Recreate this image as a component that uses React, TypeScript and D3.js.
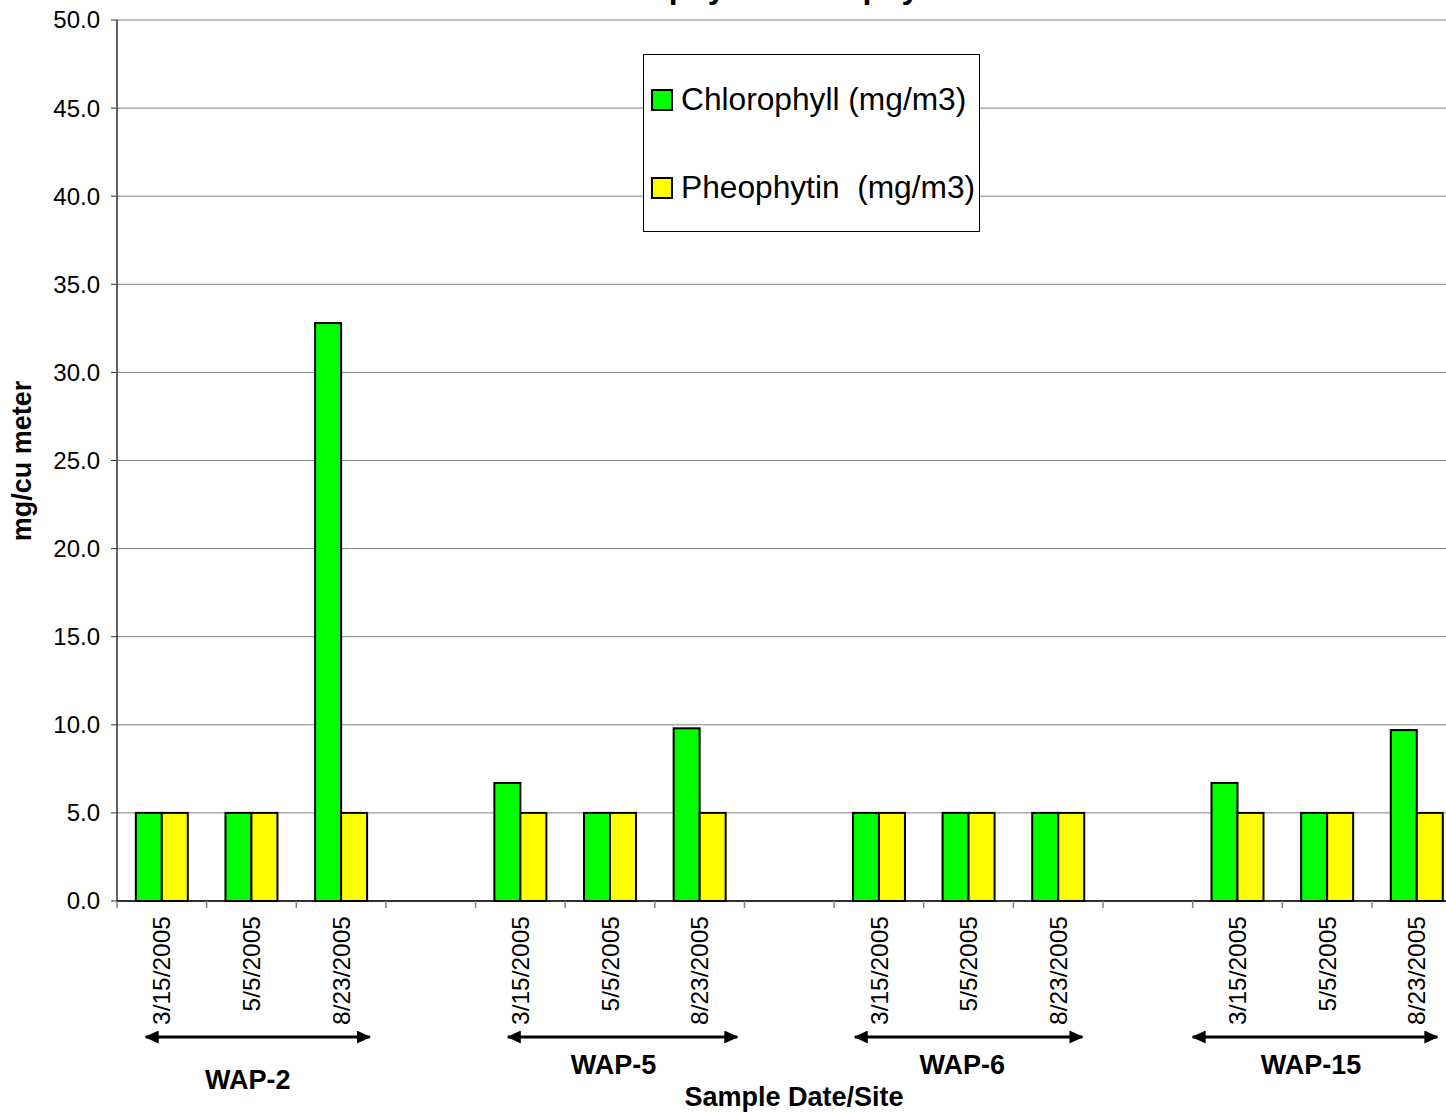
import React from "react";
import * as d3 from "d3";

// Sampling sites and dates
const sites = ["WAP-2", "WAP-5", "WAP-6", "WAP-15"];
const dates = ["3/15/2005", "5/5/2005", "8/23/2005"];

// Measured concentrations (mg/m3), in site order then date order
const chlorophyll = [5.0, 5.0, 32.8, 6.7, 5.0, 9.8, 5.0, 5.0, 5.0, 6.7, 5.0, 9.7];
const pheophytin = [5.0, 5.0, 5.0, 5.0, 5.0, 5.0, 5.0, 5.0, 5.0, 5.0, 5.0, 5.0];

const seriesNames = ["Chlorophyll (mg/m3)", "Pheophytin  (mg/m3)"];
const seriesColors = ["#00FF00", "#FFFF00"];

const yTicks = [0, 5, 10, 15, 20, 25, 30, 35, 40, 45, 50];

// Site brackets below the axis, expressed in category-slot units
const bracketStart = [0.32, 4.36, 8.23, 12.0];
const bracketEnd = [2.82, 6.92, 10.77, 14.73];
const bracketLabel = [1.46, 5.54, 9.43, 13.32];

const FONT = "'Liberation Sans', Arial, Helvetica, sans-serif";

export default function App() {
  const width = 1446;
  const height = 1112;
  const left = 117;
  const top = 20;
  const bottom = 901;
  const slotW = 89.64;

  // 15 slots: three dates per site plus an empty slot between sites
  const slots: { key: string; date: string; idx: number }[] = [];
  sites.forEach((s, si) => {
    dates.forEach((d, di) => slots.push({ key: `${s}|${d}`, date: d, idx: si * 3 + di }));
    if (si < sites.length - 1) slots.push({ key: `gap${si}`, date: "", idx: -1 });
  });

  const x = d3
    .scaleBand<string>()
    .domain(slots.map((s) => s.key))
    .range([left, left + slots.length * slotW])
    .padding(0);
  const right = left + slots.length * slotW;
  const groupW = 52;
  const x1 = d3.scaleBand<number>().domain([0, 1]).range([0, groupW]).padding(0);
  const y = d3.scaleLinear().domain([0, 50]).range([bottom, top]);
  const u = d3.scaleLinear().domain([0, 1]).range([left, left + slotW]);

  const values = [chlorophyll, pheophytin];
  const tickXs = slots.map((s) => x(s.key) as number);

  const arrowY = 1037;

  return (
    <svg
      width={width}
      height={height}
      style={{ position: "absolute", left: 0, top: 0, background: "#fff" }}
      fontFamily={FONT}
    >
      <rect x={0} y={0} width={width} height={height} fill="#fff" />
      {/* title, sitting above the top of the frame */}
      <text x={762} y={-2} textAnchor="middle" fontSize={32} fontWeight="bold">
        Chlorophyll &amp; Pheophytin
      </text>

      {/* gridlines */}
      {yTicks.map((t) => (
        <line key={`g${t}`} x1={left} x2={right} y1={y(t)} y2={y(t)} stroke="#808080" strokeWidth={1} />
      ))}

      {/* bars */}
      {slots
        .filter((s) => s.idx >= 0)
        .map((s) => {
          const cx = (x(s.key) as number) + x.bandwidth() / 2 - groupW / 2;
          return values.map((vals, k) => (
            <rect
              key={`${s.key}-${k}`}
              x={cx + (x1(k) as number)}
              y={y(vals[s.idx])}
              width={x1.bandwidth()}
              height={y(0) - y(vals[s.idx])}
              fill={seriesColors[k]}
              stroke="#000"
              strokeWidth={2}
            />
          ));
        })}

      {/* axes */}
      <line x1={left} x2={left} y1={top} y2={bottom} stroke="#333" strokeWidth={1.5} />
      <line x1={left} x2={right} y1={bottom} y2={bottom} stroke="#000" strokeWidth={1.5} />
      {yTicks.map((t) => (
        <g key={`yt${t}`}>
          <line x1={left - 6} x2={left} y1={y(t)} y2={y(t)} stroke="#333" strokeWidth={1} />
          <text x={100} y={y(t)} dy="0.35em" textAnchor="end" fontSize={24}>
            {t.toFixed(1)}
          </text>
        </g>
      ))}
      {tickXs.map((tx, i) => (
        <line key={`xt${i}`} x1={tx} x2={tx} y1={bottom} y2={bottom + 7} stroke="#808080" strokeWidth={1.5} />
      ))}
      {slots
        .filter((s) => s.idx >= 0)
        .map((s) => {
          const cx = (x(s.key) as number) + x.bandwidth() / 2;
          return (
            <text
              key={`lbl-${s.key}`}
              transform={`translate(${cx},916) rotate(-90)`}
              textAnchor="end"
              dy="0.35em"
              fontSize={24.5}
            >
              {s.date}
            </text>
          );
        })}

      {/* site brackets */}
      <defs>
        <marker id="ah" viewBox="0 0 14 13" refX={13} refY={6.5} markerWidth={14} markerHeight={13} markerUnits="userSpaceOnUse" orient="auto-start-reverse">
          <path d="M0,0 L14,6.5 L0,13 Z" fill="#000" />
        </marker>
      </defs>
      {sites.map((s, i) => (
        <g key={`br${s}`}>
          <line
            x1={u(bracketStart[i])}
            x2={u(bracketEnd[i])}
            y1={arrowY}
            y2={arrowY}
            stroke="#000"
            strokeWidth={3}
            markerStart="url(#ah)"
            markerEnd="url(#ah)"
          />
          <text x={u(bracketLabel[i])} y={i === 0 ? 1089 : 1074} textAnchor="middle" fontSize={27} fontWeight="bold">
            {s}
          </text>
        </g>
      ))}

      {/* axis titles */}
      <text x={794} y={1106} textAnchor="middle" fontSize={27} fontWeight="bold">
        Sample Date/Site
      </text>
      <text transform="translate(31,461) rotate(-90)" textAnchor="middle" fontSize={27} fontWeight="bold">
        mg/cu meter
      </text>

      {/* legend */}
      <g>
        <rect x={643.5} y={54.5} width={336} height={177} fill="#fff" stroke="#000" strokeWidth={1} />
        {seriesNames.map((n, k) => (
          <g key={n}>
            <rect x={652} y={k === 0 ? 90 : 178} width={20} height={20} fill={seriesColors[k]} stroke="#000" strokeWidth={2} />
            <text x={681} y={k === 0 ? 110 : 198} fontSize={31.7} style={{ whiteSpace: "pre" }}>
              {n}
            </text>
          </g>
        ))}
      </g>
    </svg>
  );
}
